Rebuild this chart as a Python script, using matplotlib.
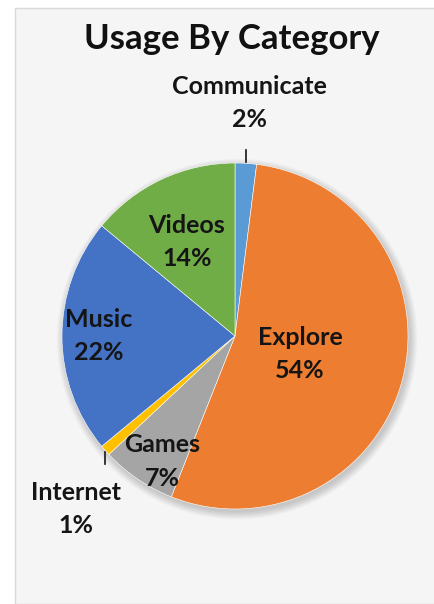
import matplotlib
matplotlib.use("Agg")
import matplotlib.pyplot as plt
from matplotlib.patches import Rectangle, Circle
import numpy as np

categories = ["Communicate", "Explore", "Games", "Internet", "Music", "Videos"]
values = [2, 54, 7, 1, 22, 14]
colors = ["#5B9BD5", "#ED7D31", "#A5A5A5", "#FFC000", "#4472C4", "#70AD47"]
# where each label sits: distance in pie radii, angle nudge in degrees
label_dist = [1.35, 0.39, 0.84, 1.36, 0.79, 0.61]
label_nudge = [0, -1, 4, 6, 0, 2]

plt.rcParams['font.family'] = ['Lato', 'DejaVu Sans']

fig = plt.figure(figsize=(4.35, 6.04), dpi=100)
fig.patch.set_facecolor("white")
# chart area panel
fig.patches.append(Rectangle((15 / 435, 0), 1.0, 1 - 8 / 604, transform=fig.transFigure,
                             facecolor="#f5f5f5", edgecolor="#d9d9d9", lw=1.0, zorder=-5))

fig.text(232 / 435, 1 - 39 / 604, "Usage By Category", ha="center", va="center",
         fontsize=25, fontweight="bold", color="#111111")

r_px = 173
cx, cy = 235, 336
ax = fig.add_axes([(cx - r_px) / 435, 1 - (cy + r_px) / 604, 2 * r_px / 435, 2 * r_px / 604])
ax.set_zorder(2)

# soft shadow behind the pie
for k in range(8):
    ax.add_patch(Circle((0.012, -0.018), 1.0 + 0.006 * k, facecolor="black",
                        alpha=0.025, lw=0, zorder=0, clip_on=False))

wedges, _ = ax.pie(values, colors=colors, startangle=90, counterclock=False,
                   wedgeprops=dict(edgecolor="white", linewidth=0.4, zorder=2))
ax.set_xlim(-1, 1)
ax.set_ylim(-1, 1)
ax.set_aspect("equal")
ax.axis("off")

for w, name, v, d, nudge in zip(wedges, categories, values, label_dist, label_nudge):
    mid = np.deg2rad((w.theta1 + w.theta2) / 2)
    lab = mid + np.deg2rad(nudge)
    x, y = d * np.cos(lab), d * np.sin(lab)
    ax.text(x, y, "%s\n%d%%" % (name, v), ha="center", va="center", fontsize=18,
            fontweight="bold", color="#151515", linespacing=1.55, clip_on=False, zorder=4)
    if d > 1:
        ex, ey = np.cos(mid), np.sin(mid)
        step = 0.08 if ey > 0 else -0.08
        ax.plot([ex, ex], [ey + step * 0.1, ey + step], color="#151515", lw=1.2,
                clip_on=False, zorder=4)

fig.savefig("out.png", dpi=100, facecolor=fig.get_facecolor())
